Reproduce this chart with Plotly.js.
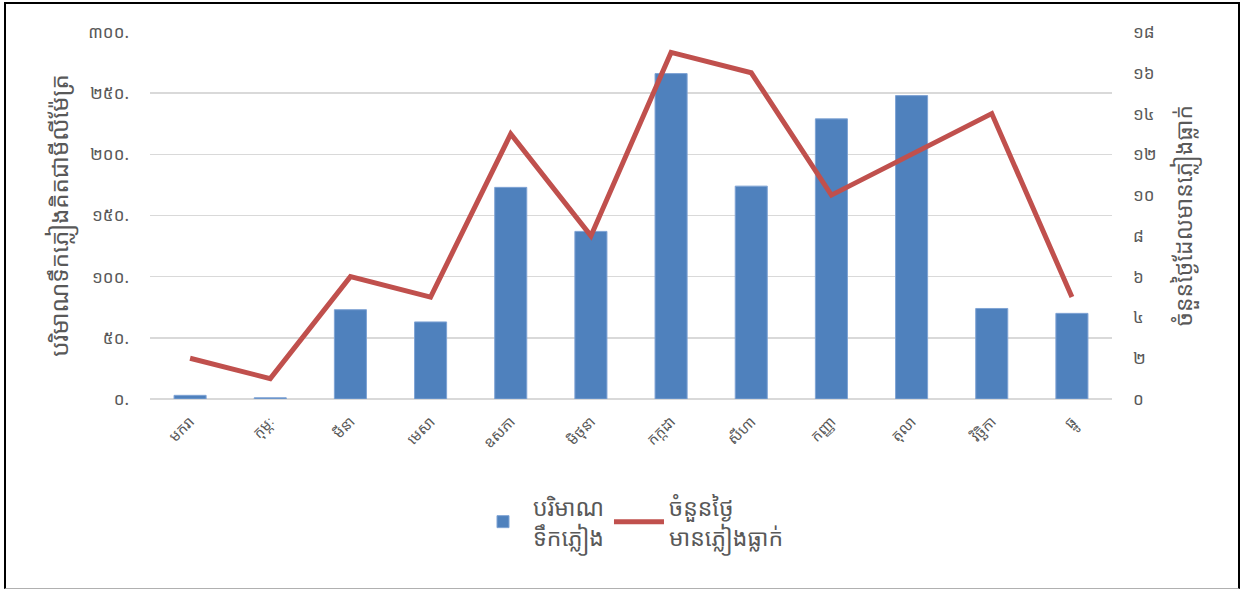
<!DOCTYPE html>
<html>
<head>
<meta charset="utf-8">
<script src="https://cdn.plot.ly/plotly-3.0.1.min.js"></script>
<style>
  html, body { margin: 0; padding: 0; background: #fff; }
  #wrap { position: relative; width: 1247px; height: 589px; }
  #chart { width: 1247px; height: 589px; }
  #frame { position: absolute; left: 4px; top: 2px; width: 1232px; height: 584px;
           border-left: 2px solid #000; border-top: 2px solid #000; border-right: 2px solid #000;
           border-bottom: 1px solid #b0b0b0; pointer-events: none; }
</style>
</head>
<body>
<div id="wrap"><div id="chart"></div><div id="frame"></div></div>
<script>
const months = ['មករា','កុម្ភៈ','មីនា','មេសា','ឧសភា','មិថុនា','កក្កដា','សីហា','កញ្ញា','តុលា','វិច្ឆិកា','ធ្នូ'];
const rainfall = [3, 1, 73, 63, 173, 137, 266, 174, 229, 248, 74, 70];
const rainyDays = [2, 1, 6, 5, 13, 8, 17, 16, 10, 12, 14, 5];
const leftTickVals = [0, 50, 100, 150, 200, 250, 300];
const leftTickText = ['០.', '៥០.', '១០០.', '១៥០.', '២០០.', '២៥០.', '៣០០.'];
const rightTickVals = [0, 2, 4, 6, 8, 10, 12, 14, 16, 18];
const rightTickText = ['០', '២', '៤', '៦', '៨', '១០', '១២', '១៤', '១៦', '១៨'];
const barName = 'បរិមាណ<br>ទឹកភ្លៀង';
const lineName = 'ចំនួនថ្ងៃ<br>មានភ្លៀងធ្លាក់';
const leftTitle = 'បរិមាណទឹកភ្លៀងគិតជាមីលីម៉ែត្រ';
const rightTitle = 'ចំនួនថ្ងៃដែលមានភ្លៀងធ្លាក់';

const FONT = '"Noto Sans Khmer", "Khmer OS", "Khmer OS System", "Noto Serif Khmer", "DejaVu Sans", sans-serif';
const GRAY = '#595959';

const data = [
  {
    type: 'bar', x: months, y: rainfall, name: barName,
    marker: { color: '#4F81BD', line: { color: '#7fa3d4', width: 1 } },
    width: 0.4, yaxis: 'y'
  },
  {
    type: 'scatter', mode: 'lines', x: months, y: rainyDays, name: lineName,
    line: { color: '#C0504D', width: 5 }, yaxis: 'y2'
  }
];

const layout = {
  width: 1247, height: 589,
  margin: { l: 150, r: 135, t: 32, b: 190 },
  paper_bgcolor: '#fff', plot_bgcolor: '#fff',
  font: { family: FONT, color: GRAY, size: 16 },
  showlegend: true,
  legend: {
    orientation: 'h', x: 0.5, xanchor: 'center', y: -0.235, yanchor: 'top',
    font: { size: 23, color: GRAY, family: FONT }, itemwidth: 50,
    traceorder: 'normal'
  },
  xaxis: {
    type: 'category', tickangle: -45, showgrid: false, zeroline: false,
    showline: false, ticks: '', tickfont: { size: 15, color: GRAY },
    ticklabelstandoff: 10,
    range: [-0.5, 11.5]
  },
  yaxis: {
    range: [0, 300], tickvals: leftTickVals, ticktext: leftTickText,
    showgrid: true, gridcolor: '#d9d9d9', gridwidth: 1.5, zeroline: true,
    zerolinecolor: '#d9d9d9', zerolinewidth: 2, showline: false, ticks: '',
    tickfont: { size: 17, color: GRAY }, ticklabelstandoff: 20,
    title: { text: leftTitle, font: { size: 24, color: GRAY }, standoff: 12 }
  },
  yaxis2: {
    range: [0, 18], tickvals: rightTickVals, ticktext: rightTickText,
    overlaying: 'y', side: 'right', showgrid: false, zeroline: false,
    showline: false, ticks: '', tickfont: { size: 17, color: GRAY },
    ticklabelstandoff: 20,
    title: { text: rightTitle, font: { size: 23, color: GRAY }, standoff: 20 }
  }
};

Plotly.newPlot('chart', data, layout, { displayModeBar: false, staticPlot: true });
</script>
</body>
</html>
